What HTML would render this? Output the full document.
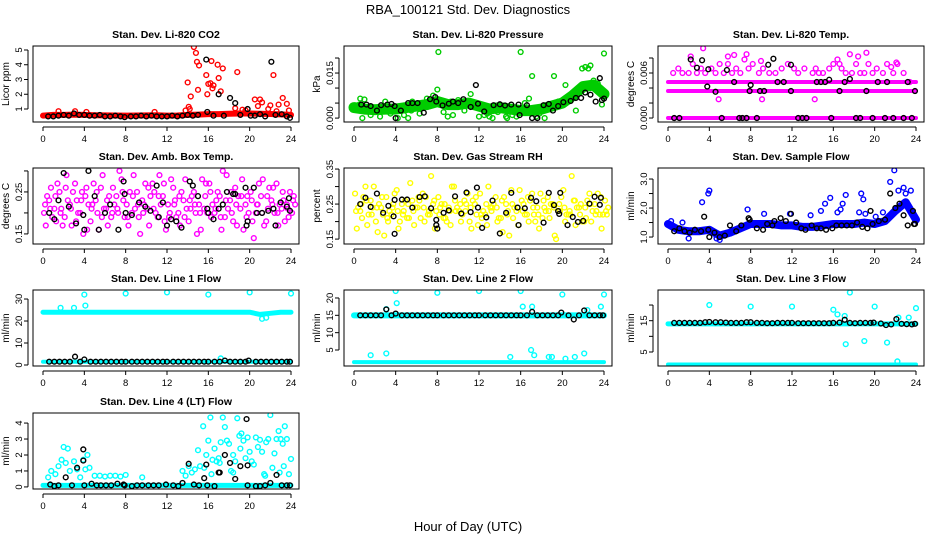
<!DOCTYPE html>
<html><head><meta charset="utf-8"><style>
html,body{margin:0;padding:0;background:#fff;}
svg{display:block;font-family:"Liberation Sans",sans-serif;}
</style></head><body>
<svg id="chart" width="936" height="540" viewBox="0 0 936 540" xmlns="http://www.w3.org/2000/svg">
<text x="468" y="14" text-anchor="middle" font-size="13">RBA_100121  Std. Dev. Diagnostics</text>
<text x="468" y="531" text-anchor="middle" font-size="13">Hour of Day (UTC)</text>
</svg>
<script>
const xTicks=[0,4,8,12,16,20,24];
// ---- CO2 ----
const co2Band=[0.55,0.6,0.6,0.62,0.6,0.58,0.57,0.56,0.55,0.56,0.57,0.58,0.55,0.56,0.6,0.62,0.65,0.65,0.68,0.7,0.7,0.68,0.66,0.64,0.6];
const co2PtsH=[14,14.1,14.3,14.6,14.8,14.9,15,15.1,15.8,15.9,16,16.2,16.3,16.4,16.5,16.9,17,17.2,17.4,18.6,18.8,19.3,20.5,20.8,21,21.2,22,22.3,22.6,22.8,23.2,23.6,23.8,13.8,14.2,1.5,3.1,4.2,10.8,19.6,21.8];
const co2PtsV=[2.8,1.15,1.85,5.2,4.8,4.2,2.3,3.95,3.3,2.0,2.7,2.75,4.25,2.4,2.6,4.0,3.1,2.2,3.75,1.05,3.5,0.95,1.65,1.2,1.65,1.45,1.25,3.3,0.85,1.3,1.75,1.35,0.9,0.9,1.0,0.85,0.85,0.8,0.8,0.9,1.0];
const co2BlkH=[0.5,1,1.5,2,2.5,3,3.5,4,4.5,5,5.5,6,6.5,7,7.5,7.9,8.5,9,9.5,10,10.5,11,11.5,12,12.5,13,13.5,14,14.5,15,15.8,15.9,16.5,17,17.5,18.1,18.6,19.1,19.8,20.1,20.5,21,21.5,22.1,22.5,23.1,23.6,23.9];
const co2BlkV=[0.5,0.5,0.55,0.6,0.55,0.7,0.6,0.6,0.55,0.55,0.6,0.5,0.5,0.55,0.5,0.45,0.5,0.5,0.55,0.5,0.55,0.5,0.5,0.5,0.55,0.5,0.55,0.6,0.55,0.6,4.35,0.8,0.55,2.0,0.55,1.75,1.4,0.6,1.0,0.55,0.55,0.65,0.5,4.2,0.6,0.65,0.5,0.4];
// ---- Pressure ----
const presBand=[0.0035,0.003,0.0028,0.003,0.003,0.0035,0.004,0.0045,0.0055,0.0045,0.0045,0.005,0.004,0.003,0.0035,0.003,0.0025,0.0025,0.003,0.004,0.005,0.0075,0.0105,0.011,0.008];
const presPtsH=[0.6,0.8,1.0,1.6,2,2.5,3,3.5,4.2,4.8,5.2,5.6,6.3,7,7.6,8,8.1,8.6,9,9.5,10,10.6,11.2,11.6,12,12.5,13,13.3,13.8,14.2,14.7,15.2,15.6,16.0,16.4,16.8,17.1,17.8,18.3,19.2,19.6,20.3,20.8,21.3,21.9,22.2,22.5,22.7,23.0,23.4,23.8,24,0.5,2.8,5.5,9.3,12.8,14.6,17.5];
const presPtsV=[0.0065,0.0,0.0062,0.001,0.002,0.0005,0.0055,0.0015,0.0,0.001,0.0,0.0055,0.0015,0.0065,0.0075,0.0095,0.022,0.002,0.0005,0.001,0.006,0.0025,0.008,0.0045,0.0005,0.001,0.0005,0.0,0.002,0.004,0.0,0.001,0.0005,0.022,0.005,0.0065,0.014,0.0015,0.0,0.014,0.0055,0.011,0.0065,0.0025,0.0165,0.017,0.0165,0.0175,0.0125,0.0115,0.0045,0.0215,0.0045,0.0035,0.0025,0.0055,0.0015,0.0005,0.0005];
const presBlkH=[0.7,1.2,1.6,2.2,2.6,3.2,3.6,3.9,4.0,4.5,5.2,5.6,6.1,6.7,7.3,7.8,7.9,8.5,9.1,9.5,10.0,10.5,11.2,11.7,11.9,12.5,13.4,14.0,14.5,15.1,15.8,15.9,16.6,17.1,17.6,18.2,18.7,19.1,19.6,20.1,20.8,21.3,21.8,22.2,22.7,23.2,23.6,23.8,24];
const presBlkV=[0.0045,0.0045,0.004,0.0025,0.0043,0.0045,0.0047,0.004,0.0,0.0025,0.005,0.005,0.005,0.0018,0.0063,0.007,0.0055,0.0042,0.0048,0.0055,0.005,0.0063,0.0037,0.011,0.0048,0.0022,0.0043,0.0046,0.0042,0.0045,0.0045,0.001,0.0043,0.0,0.0,0.0043,0.0047,0.0025,0.004,0.0053,0.0057,0.0067,0.0067,0.0085,0.0078,0.0055,0.0133,0.006,0.0065];
// ---- Li-820 Temp ----
const tempBand0=[0,0,0,0,0,0,0,0,0,0,0,0,0,0,0,0,0,0,0,0,0,0,0,0,0];
const tempBand1=[0.0036,0.0036,0.0036,0.0036,0.0036,0.0036,0.0036,0.0036,0.0036,0.0036,0.0036,0.0036,0.0036,0.0036,0.0036,0.0036,0.0036,0.0036,0.0036,0.0036,0.0036,0.0036,0.0036,0.0036,0.0036];
const tempBand2=[0.0048,0.0048,0.0048,0.0048,0.0048,0.0048,0.0048,0.0048,0.0048,0.0048,0.0048,0.0048,0.0048,0.0048,0.0048,0.0048,0.0048,0.0048,0.0048,0.0048,0.0048,0.0048,0.0048,0.0048,0.0048];
const tempPtsH=[0.5,1.0,1.4,2.0,2.4,2.8,3.2,3.6,4.2,4.6,5.0,5.4,5.8,6.2,6.6,7.0,7.4,7.8,8.2,8.8,9.2,9.8,10.4,11.0,11.6,12.2,12.6,13.2,14.0,14.6,15.0,15.6,16.0,16.4,16.8,17.2,17.8,18.2,18.6,19.0,19.4,19.8,20.2,20.8,21.2,21.8,22.2,22.8,23.4,2.2,3.4,5.8,6.4,7.6,9.0,14.3,16.6,17.6,18.4,19.2,21.6,22.1,4.9,9.1,14.2];
const tempPtsV=[0.006,0.0066,0.006,0.006,0.0072,0.006,0.0066,0.006,0.0066,0.006,0.0072,0.006,0.0072,0.006,0.0066,0.006,0.0078,0.0066,0.0072,0.006,0.0066,0.006,0.006,0.0066,0.0072,0.0066,0.006,0.0066,0.006,0.006,0.006,0.0066,0.0072,0.0078,0.0066,0.006,0.006,0.0072,0.006,0.006,0.0072,0.006,0.0066,0.006,0.0072,0.006,0.0072,0.006,0.0048,0.0082,0.0093,0.0082,0.0084,0.0085,0.0076,0.0066,0.0072,0.0085,0.0082,0.0087,0.0068,0.0074,0.0025,0.0025,0.0025];
const tempBlkH=[0.6,1.1,2.2,2.8,3.3,3.9,3.8,4.6,5.2,5.7,6.4,6.9,7.2,7.6,7.9,8.0,8.6,8.9,9.3,9.7,10.2,10.6,11.2,11.9,11.9,12.6,13.0,13.4,14.4,14.8,15.2,15.6,15.8,16.6,17.1,17.6,18.2,18.6,19.2,19.8,20.3,21.0,21.2,21.8,22.8,23.2,23.6,23.9];
const tempBlkV=[0,0,0.0078,0.0067,0.0077,0.0065,0.0042,0.0035,0,0.0064,0.0048,0,0,0,0.0036,0.0044,0,0.0036,0.0036,0.0071,0.0079,0.0048,0.0048,0.0036,0.0071,0,0,0,0.0048,0.0048,0.0048,0.0051,0,0.0036,0.0048,0.0052,0,0,0.0036,0,0.0048,0,0.0048,0,0,0.0048,0,0.0036];
// ---- Amb box temp (values on half-hour grid) ----
const ambA=[0.2,0.23,0.21,0.25,0.19,0.22,0.27,0.2,0.24,0.18,0.23,0.26,0.21,0.19,0.24,0.28,0.22,0.2,0.25,0.23,0.21,0.27,0.19,0.24,0.22,0.26,0.2,0.23,0.18,0.25,0.22,0.21,0.27,0.2,0.24,0.19,0.23,0.26,0.21,0.22,0.25,0.2,0.24,0.18,0.23,0.27,0.21,0.22,0.2];
const ambB=[0.17,0.26,0.18,0.21,0.29,0.17,0.23,0.25,0.16,0.22,0.2,0.29,0.17,0.26,0.2,0.23,0.17,0.29,0.19,0.22,0.17,0.25,0.29,0.18,0.2,0.23,0.17,0.28,0.21,0.2,0.16,0.27,0.19,0.23,0.16,0.29,0.2,0.17,0.28,0.24,0.18,0.22,0.28,0.21,0.26,0.17,0.23,0.19,0.24];
const ambC=[0.24,0.19,0.27,0.17,0.23,0.25,0.2,0.15,0.22,0.27,0.16,0.21,0.24,0.22,0.3,0.19,0.25,0.21,0.15,0.27,0.24,0.2,0.22,0.16,0.28,0.19,0.25,0.21,0.24,0.15,0.28,0.2,0.22,0.25,0.3,0.21,0.18,0.24,0.16,0.2,0.14,0.27,0.17,0.26,0.2,0.22,0.18,0.25,0.22];
const ambD=[0.22,0.21,0.24,0.2,0.26,0.21,0.18,0.23,0.26,0.21,0.25,0.19,0.23,0.2,0.21,0.25,0.19,0.24,0.22,0.2,0.26,0.21,0.24,0.27,0.19,0.22,0.24,0.19,0.23,0.22,0.2,0.24,0.25,0.21,0.19,0.23,0.25,0.22,0.24,0.19,0.23,0.22,0.2,0.24,0.22,0.2,0.25,0.21,0.23];
const ambBlkH=[0.6,1.1,1.5,2.0,2.5,3.2,3.9,4.0,4.4,5.0,5.4,6.0,6.5,7.3,7.8,7.9,8.0,8.6,9.3,9.9,10.4,11.0,11.2,11.6,12.0,12.4,12.9,13.4,14.2,14.5,15.0,15.9,16.0,16.5,17.0,17.4,17.8,18.4,18.6,19.6,19.7,19.8,20.4,20.7,21.2,21.8,22.3,22.5,23.0,23.6,23.8,23.9];
const ambBlkV=[0.2,0.185,0.23,0.295,0.215,0.175,0.195,0.16,0.3,0.24,0.16,0.2,0.22,0.16,0.275,0.245,0.2,0.195,0.225,0.215,0.205,0.265,0.19,0.225,0.17,0.185,0.18,0.165,0.275,0.265,0.24,0.21,0.2,0.185,0.21,0.22,0.25,0.245,0.245,0.26,0.17,0.18,0.26,0.2,0.2,0.205,0.21,0.17,0.225,0.215,0.235,0.205];
// ---- RH ----
const rhA=[0.28,0.23,0.3,0.26,0.2,0.24,0.27,0.22,0.29,0.25,0.21,0.26,0.24,0.28,0.22,0.25,0.27,0.21,0.24,0.3,0.23,0.26,0.2,0.25,0.28,0.22,0.24,0.27,0.21,0.25,0.29,0.23,0.26,0.22,0.28,0.24,0.21,0.27,0.25,0.23,0.29,0.22,0.26,0.24,0.2,0.28,0.25,0.22,0.26];
const rhB=[0.18,0.21,0.19,0.24,0.17,0.22,0.2,0.25,0.18,0.23,0.21,0.19,0.26,0.2,0.22,0.18,0.24,0.21,0.19,0.23,0.2,0.25,0.18,0.22,0.21,0.19,0.24,0.2,0.17,0.23,0.21,0.19,0.25,0.2,0.22,0.18,0.24,0.21,0.16,0.23,0.2,0.22,0.19,0.25,0.21,0.2,0.23,0.18,0.22];
const rhC=[0.24,0.27,0.22,0.3,0.25,0.16,0.23,0.28,0.2,0.26,0.31,0.24,0.21,0.27,0.33,0.23,0.25,0.2,0.3,0.24,0.22,0.28,0.26,0.19,0.23,0.3,0.25,0.21,0.27,0.16,0.24,0.29,0.22,0.26,0.2,0.28,0.23,0.25,0.15,0.27,0.22,0.33,0.24,0.2,0.26,0.23,0.28,0.22,0.24];
const rhD=[0.23,0.25,0.26,0.22,0.24,0.27,0.21,0.24,0.23,0.22,0.25,0.23,0.27,0.24,0.23,0.26,0.22,0.25,0.23,0.26,0.25,0.23,0.24,0.27,0.22,0.25,0.23,0.24,0.26,0.22,0.25,0.24,0.23,0.27,0.24,0.22,0.26,0.23,0.24,0.25,0.24,0.23,0.26,0.22,0.24,0.25,0.22,0.27,0.23];
const rhBlkH=[0.6,1.1,1.6,2.2,2.8,3.3,3.8,3.9,3.9,4.6,5.1,5.6,6.3,6.8,7.4,7.9,7.9,8.0,8.6,9.1,9.7,10.3,10.8,11.2,11.8,11.9,12.3,12.7,13.3,14.0,14.6,15.1,15.7,15.8,16.4,17.0,17.5,18.2,18.7,19.2,19.6,19.7,19.8,20.5,21.0,21.5,22.0,22.6,23.1,23.6,23.7];
const rhBlkV=[0.25,0.268,0.242,0.28,0.225,0.245,0.215,0.262,0.165,0.263,0.263,0.24,0.27,0.272,0.238,0.205,0.19,0.18,0.225,0.232,0.272,0.223,0.283,0.227,0.297,0.24,0.182,0.212,0.26,0.166,0.225,0.282,0.24,0.19,0.238,0.268,0.258,0.197,0.282,0.247,0.23,0.222,0.282,0.19,0.213,0.199,0.202,0.251,0.271,0.248,0.268];
// ---- Sample flow ----
const flowBand=[1.45,1.25,1.2,1.2,1.25,1.05,1.15,1.3,1.45,1.45,1.45,1.4,1.4,1.35,1.35,1.4,1.45,1.45,1.45,1.5,1.45,1.55,1.9,2.2,1.6];
const flowPtsH=[3.3,3.9,4.0,7.7,9.3,11.8,15.2,15.7,16.4,16.9,17.2,18.5,18.7,18.9,19.1,21.5,22.3,22.8,23.5,4.7,1.4,0.3,13.8,14.8,16.7,20.8,21.9,23.0,20.1,2.0,5.0];
const flowPtsV=[2.2,2.5,2.6,1.95,1.8,1.8,2.15,2.35,1.85,2.15,2.45,1.85,2.5,2.3,1.8,2.9,2.6,2.7,2.6,0.95,1.5,1.55,1.75,1.9,1.95,1.85,3.3,2.5,1.7,0.95,0.9];
const flowBlkH=[0.6,1.1,1.6,2.1,2.6,3.2,3.5,3.9,4.0,4.5,5.0,5.5,6.0,6.6,7.1,7.8,7.9,8.6,9.2,9.6,10.1,10.3,10.9,11.4,11.9,12.4,12.9,13.3,13.9,14.4,14.8,15.3,15.9,16.3,16.8,17.3,17.8,18.3,18.8,19.3,19.6,19.8,20.4,21.0,21.5,22.0,22.4,22.8,23.2,23.7,23.8,23.9];
const flowBlkV=[1.2,1.3,1.2,1.15,1.25,1.2,1.7,1.25,1.0,1.15,1.0,1.05,1.4,1.2,1.4,1.65,1.6,1.3,1.25,1.45,1.4,1.55,1.65,1.55,1.8,1.5,1.3,1.25,1.4,1.3,1.3,1.25,1.3,1.4,1.4,1.4,1.4,1.5,1.35,1.3,1.9,1.45,1.55,1.6,2.5,2.0,2.15,1.75,1.4,1.9,1.45,1.45];
// ---- Line flows ----
const lineBlkH=[0.6,1.1,1.6,2.1,2.6,3.1,3.6,4.0,4.6,5.1,5.6,6.1,6.6,7.1,7.6,8.0,8.6,9.1,9.6,10.1,10.6,11.1,11.6,12.0,12.6,13.1,13.6,14.1,14.6,15.1,15.6,16.0,16.6,17.1,17.6,18.1,18.6,19.1,19.6,19.9,20.6,21.1,21.6,22.1,22.6,23.1,23.6,23.9];
const line1BandHi=[24,24,24,24,24,24,24,24,24,24,24,24,24,24,24,24,24,24,24,24,24,23,23.5,24,24];
const line1BandLo=[1.5,1.5,1.5,1.5,1.5,1.5,1.5,1.5,1.5,1.5,1.5,1.5,1.5,1.5,1.5,1.5,1.5,1.5,1.5,1.5,1.5,1.5,1.5,1.5,1.5];
const line1PtsH=[4,8,12,16,20,24,3,4.1,21.2,21.6,1.7,17.2];
const line1PtsV=[32,32.5,33,32,33,32.5,26,27,21,21.5,26,3];
const line1BlkV=[1.5,1.5,1.5,1.5,1.5,3.8,1.5,2.5,1.5,1.5,1.5,1.5,1.5,1.5,1.5,1.5,1.5,1.5,1.5,1.5,1.5,1.5,1.5,1.5,1.5,1.5,1.5,1.5,1.5,1.5,1.5,1.5,1.5,1.5,2.0,1.5,1.5,1.5,1.5,2.0,1.5,1.5,1.5,1.5,1.5,1.5,1.5,1.5];
const line2BandHi=[15,15,15,15,15,15,15,15,15,15,15,15,15,15,15,15,15,15,15,15,15,15,15,15,15];
const line2BandLo=[1.5,1.5,1.5,1.5,1.5,1.5,1.5,1.5,1.5,1.5,1.5,1.5,1.5,1.5,1.5,1.5,1.5,1.5,1.5,1.5,1.5,1.5,1.5,1.5,1.5];
const line2PtsH=[4,8,12,16,20,24,3.1,4.1,16.2,17.1,23.7,22.4,1.6,3.1,17,17.3,15,19,22.1,18.7,21.2,20.3];
const line2PtsV=[22,21.5,22,22,21,21,16.8,18.5,17.5,17.5,17.5,16.5,3.5,4,5,3.5,3,3,4,3,3,2.5];
const line2BlkV=[15,15,15,15,15,16.7,15,15.5,15,15,15,15,15,15,15,15,15,15,15,15,15,15,15,15,15,15,15,15,15,15,15,15,15,16,15,15,15,15,15,15.8,15,13.8,15,16.4,15,15,15,15];
const line3BandHi=[14,14,14,14,14,14,14,14,14,14,14,14,14,14,14,14,14,14,14,14,14,14,14,14,14];
const line3BandLo=[1,1,1,1,1,1,1,1,1,1,1,1,1,1,1,1,1,1,1,1,1,1,1,1,1];
const line3PtsH=[4,8,12,16,16.4,17.1,17.6,19,20,21.2,22.3,23.3,24,17.2,22.2];
const line3PtsV=[20,19.5,19.5,18.5,17,16.5,24,8.5,19.5,8,16,16,19,7.5,2];
const line3BlkV=[14.3,14.3,14.3,14.3,14.3,14.3,14.5,14.6,14.5,14.5,14.4,14.3,14.3,14.3,14.5,14.5,14.3,14.3,14.2,14.2,14.3,14.3,14.3,14.3,14.2,14.2,14.2,14.2,14.2,14.2,14.2,14.3,14.4,15.3,14.3,14.2,14.3,14.3,14.3,14.4,14.1,13.6,13.8,15.5,14.0,13.9,13.8,14.0];
const line4Band=[0.1,0.1,0.1,0.1,0.1,0.1,0.1,0.1,0.1,0.1,0.1,0.1,0.1,0.1,0.1,0.1,0.1,0.1,0.1,0.1,0.1,0.1,0.1,0.1,0.1];
const line4PtsH=[0.5,0.8,1.2,1.5,1.8,2.0,2.2,2.4,2.6,3.0,3.3,3.6,3.9,4.1,4.3,4.5,5.0,5.5,6.0,6.5,7.0,7.5,8.0,9.6,13.5,13.8,14.1,14.4,14.7,15.0,15.2,15.5,15.8,16.0,16.2,16.4,16.6,16.8,17.0,17.2,17.4,17.6,17.8,18.0,18.2,18.4,18.6,18.8,19.0,19.2,19.4,19.6,19.8,20.0,20.2,20.4,20.6,20.8,21.0,21.2,21.4,21.6,21.8,22.0,22.2,22.4,22.6,22.8,23.0,23.2,23.4,23.6,23.8,24.0,15.6,16.3,17.1,18.4,19.1,21.5,22.9,23.3];
const line4PtsV=[0.6,1.0,0.8,1.3,1.7,2.5,1.5,2.4,1.0,1.6,1.1,0.6,1.7,1.1,2.0,1.2,0.7,0.7,0.65,0.7,0.7,0.65,0.75,0.6,1.0,0.7,1.3,0.9,1.1,2.3,1.3,3.8,2.0,2.9,4.35,1.7,2.4,1.6,1.8,2.8,4.35,3.75,2.9,2.7,1.0,2.0,1.6,4.3,3.2,3.35,2.9,1.8,3.1,2.2,1.6,1.4,3.1,2.5,2.95,2.2,0.8,2.8,3.0,4.5,1.2,2.1,3.0,3.5,3.0,2.7,3.8,3.0,0.8,1.75,1.2,0.8,1.5,0.9,2.4,0.7,0.9,1.3];
const line4BlkH=[0.7,1.1,1.5,2.2,2.8,3.3,3.9,3.9,4.0,4.7,5.2,5.6,6.1,6.6,7.2,7.8,7.9,8.6,9.1,9.6,10.2,10.7,11.2,11.9,12.6,13.1,13.5,14.1,14.6,15.1,15.6,15.8,15.9,16.6,17.0,17.1,17.6,18.1,18.6,19.1,19.7,19.8,19.8,20.6,21.0,21.5,22.0,22.6,23.1,23.6,23.9];
const line4BlkV=[0.15,0.05,0.1,0.6,0.1,1.2,2.35,1.65,0.1,0.2,0.1,0.1,0.1,0.1,0.2,0.15,0.1,0.05,0.1,0.1,0.1,0.1,0.1,0.15,0.1,0.05,0.25,1.45,0.15,0.1,0.55,1.4,0.1,0.05,0.9,0.9,2.0,1.5,0.5,1.3,4.25,1.35,0.1,0.05,0.05,0.1,0.25,0.75,0.1,0.1,0.1];

const NS="http://www.w3.org/2000/svg";
const svg=document.getElementById('chart');
const COLS=[[33,299],[344,612],[658,924]];
const ROWS=[46,168,290,413];
const PH=76;
function mk(tag,attrs,parent){const e=document.createElementNS(NS,tag);for(const k in attrs)e.setAttribute(k,attrs[k]);(parent||svg).appendChild(e);return e;}
const panels=[
 {key:'co2',title:'Stan. Dev. Li-820 CO2',ylab:'Licor ppm',c:0,r:0,ymin:0.12,ymax:5.27,ticks:[1,2,3,4,5],labels:['1','2','3','4','5'],col:'#ff0000',bands:[[co2Band,6]],pts:[[co2PtsH,co2PtsV]],grid:[],bh:co2BlkH,bv:co2BlkV},
 {key:'pressure',title:'Stan. Dev. Li-820 Pressure',ylab:'kPa',c:1,r:0,ymin:-0.0013,ymax:0.024,ticks:[0,0.005,0.01,0.015,0.02],labels:['0.000','','','0.015',''],col:'#00cc00',bands:[[presBand,11]],pts:[[presPtsH,presPtsV]],grid:[],bh:presBlkH,bv:presBlkV},
 {key:'temp',title:'Stan. Dev. Li-820 Temp.',ylab:'degrees C',c:2,r:0,ymin:-0.00053,ymax:0.0096,ticks:[0,0.002,0.004,0.006,0.008],labels:['0.000','','','0.006',''],col:'#ff00ff',bands:[[tempBand0,4],[tempBand1,4],[tempBand2,4]],pts:[[tempPtsH,tempPtsV]],grid:[],bh:tempBlkH,bv:tempBlkV},
 {key:'ambtemp',title:'Stan. Dev. Amb. Box Temp.',ylab:'degrees C',c:0,r:1,ymin:0.126,ymax:0.307,ticks:[0.15,0.2,0.25,0.3],labels:['0.15','','0.25',''],col:'#ff00ff',bands:[],pts:[],grid:[[ambA,0.1],[ambB,0.27],[ambC,0.4],[ambD,0.2]],bh:ambBlkH,bv:ambBlkV},
 {key:'rh',title:'Stan. Dev. Gas Stream RH',ylab:'percent',c:1,r:1,ymin:0.136,ymax:0.353,ticks:[0.15,0.2,0.25,0.3,0.35],labels:['0.15','','0.25','','0.35'],col:'#ffff00',bands:[],pts:[],grid:[[rhA,0.1],[rhB,0.27],[rhC,0.4],[rhD,0.2]],bh:rhBlkH,bv:rhBlkV},
 {key:'sampleflow',title:'Stan. Dev. Sample Flow',ylab:'ml/min',c:2,r:1,ymin:0.76,ymax:3.38,ticks:[1,1.5,2,2.5,3],labels:['1.0','','2.0','','3.0'],col:'#0000ff',bands:[[flowBand,8]],pts:[[flowPtsH,flowPtsV]],grid:[],bh:flowBlkH,bv:flowBlkV},
 {key:'line1',title:'Stan. Dev. Line 1 Flow',ylab:'ml/min',c:0,r:2,ymin:-0.45,ymax:34.1,ticks:[0,10,20,30],labels:['0','10','20','30'],col:'#00ffff',bands:[[line1BandHi,5],[line1BandLo,4]],pts:[[line1PtsH,line1PtsV]],grid:[],bh:lineBlkH,bv:line1BlkV},
 {key:'line2',title:'Stan. Dev. Line 2 Flow',ylab:'ml/min',c:1,r:2,ymin:0.39,ymax:22.3,ticks:[5,10,15,20],labels:['5','10','15','20'],col:'#00ffff',bands:[[line2BandHi,6],[line2BandLo,4]],pts:[[line2PtsH,line2PtsV]],grid:[],bh:lineBlkH,bv:line2BlkV},
 {key:'line3',title:'Stan. Dev. Line 3 Flow',ylab:'ml/min',c:2,r:2,ymin:0.53,ymax:24.8,ticks:[5,10,15,20],labels:['5','','15',''],col:'#00ffff',bands:[[line3BandHi,5],[line3BandLo,4]],pts:[[line3PtsH,line3PtsV]],grid:[],bh:lineBlkH,bv:line3BlkV},
 {key:'line4',title:'Stan. Dev. Line 4 (LT) Flow',ylab:'ml/min',c:0,r:3,ymin:-0.13,ymax:4.63,ticks:[0,1,2,3,4],labels:['0','1','2','3','4'],col:'#00ffff',bands:[[line4Band,5]],pts:[[line4PtsH,line4PtsV]],grid:[],bh:line4BlkH,bv:line4BlkV}
];
panels.forEach((p,pi)=>{
 const L=COLS[p.c][0],R=COLS[p.c][1],T=ROWS[p.r],B=T+PH;
 const x0=L+10,x24=R-8;
 const xs=h=>x0+(x24-x0)*h/24;
 const ys=v=>B-(v-p.ymin)/(p.ymax-p.ymin)*PH;
 const g=mk('g',{});
 
 
 const cp=mk('clipPath',{id:'cp'+pi},g);mk('rect',{x:L,y:T,width:R-L,height:PH},cp);
 const t=mk('text',{x:(L+R)/2,y:T-8,'text-anchor':'middle','font-size':'10.5','font-weight':'bold'},g);t.textContent=p.title;
 
 
 const yl=mk('text',{x:0,y:0,'text-anchor':'middle','font-size':'10',transform:`translate(${L-24},${T+PH/2}) rotate(-90)`},g);yl.textContent=p.ylab;
 
 
 const data=mk('g',{'clip-path':`url(#cp${pi})`},g);
 
 
 p.bands.forEach(([vals,w])=>{
  const pts=vals.map((v,i)=>xs(i)+','+ys(v)).join(' ');
  const pl=mk('polyline',{points:pts,fill:'none',stroke:p.col,'stroke-width':w,'stroke-linejoin':'round','stroke-linecap':'round'},data);
  
  
 });
 const dot=(h,v,col)=>{const c=mk('circle',{cx:xs(h),cy:ys(v),r:2.4,fill:'none',stroke:col,'stroke-width':1.4},data);
  
  };
 p.grid.forEach(([vals,off])=>vals.forEach((v,i)=>dot(i*0.5+off,v,p.col)));
 p.pts.forEach(([hs,vs])=>{const n=Math.min(hs.length,vs.length);for(let i=0;i<n;i++)dot(hs[i],vs[i],p.col);});
 const n=Math.min(p.bh.length,p.bv.length);for(let i=0;i<n;i++)dot(p.bh[i],p.bv[i],'#000');
 const box=mk('rect',{x:L,y:T,width:R-L,height:PH,fill:'none',stroke:'#000','stroke-width':1},g);
 
 
 mk('line',{x1:xs(0),x2:xs(24),y1:B+5,y2:B+5,stroke:'#000'},g);
 xTicks.forEach(h=>{mk('line',{x1:xs(h),x2:xs(h),y1:B+5,y2:B+9,stroke:'#000'},g);
  const tl=mk('text',{x:xs(h),y:B+20,'text-anchor':'middle','font-size':'9.5'},g);tl.textContent=h;
  
  });
 const yt=p.ticks;
 mk('line',{x1:L-5,x2:L-5,y1:ys(yt[0]),y2:ys(yt[yt.length-1]),stroke:'#000'},g);
 yt.forEach((v,i)=>{mk('line',{x1:L-9,x2:L-5,y1:ys(v),y2:ys(v),stroke:'#000'},g);
  if(p.labels[i]){const tl=mk('text',{x:0,y:0,'text-anchor':'middle','font-size':'9.5',transform:`translate(${L-11},${ys(v)}) rotate(-90)`},g);tl.textContent=p.labels[i];
  
  }});
});
</script>
</body></html>
